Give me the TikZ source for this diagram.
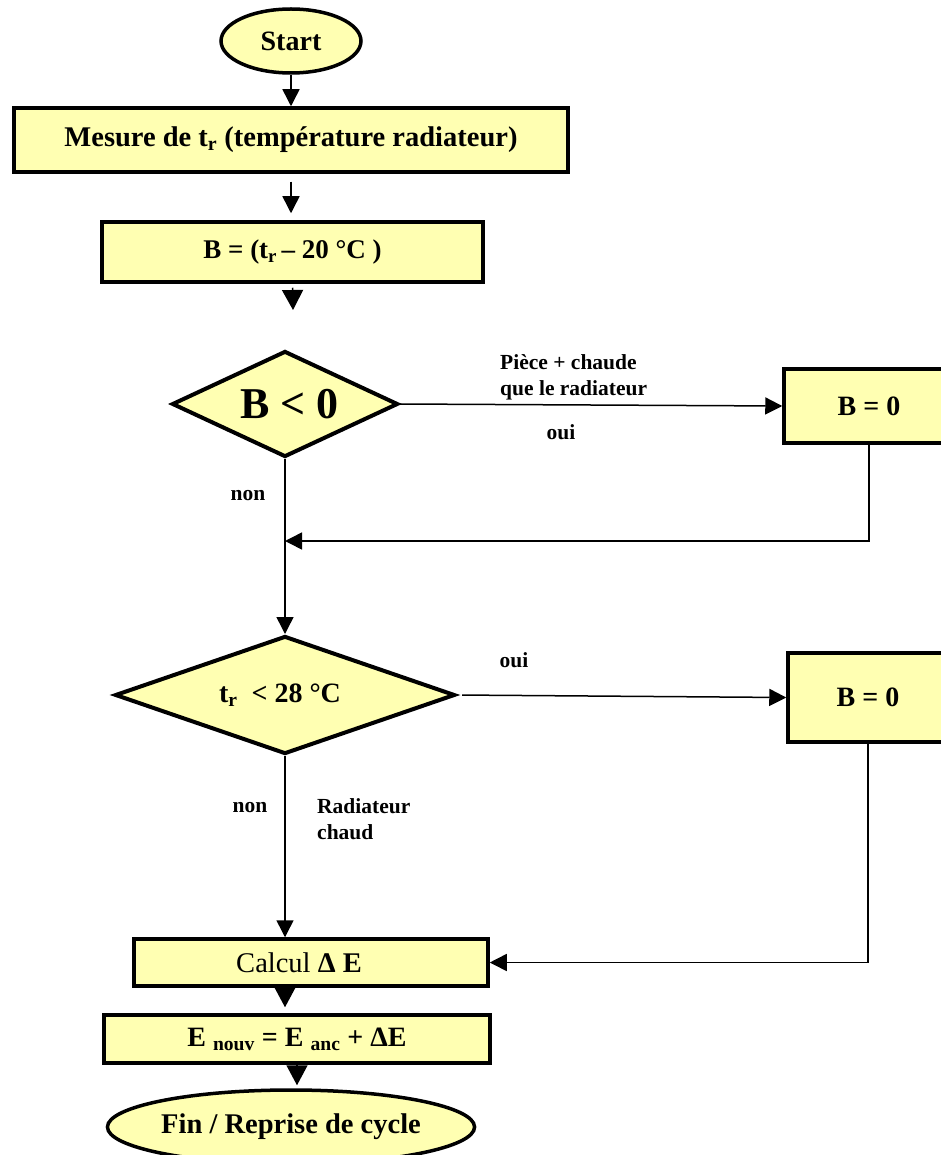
\documentclass[tikz,border=0pt]{standalone}
\usepackage{fontspec}
\setmainfont{Liberation Serif}
\usetikzlibrary{shapes.geometric,arrows.meta}
\definecolor{paleyellow}{RGB}{255,255,178}
\newcommand{\fsz}[1]{\fontsize{#1}{#1}\selectfont}

\begin{document}
\begin{tikzpicture}[x=1pt,y=-1pt,
		every node/.style={inner sep=0pt},
		box/.style={draw=black,line width=3.5pt,fill=paleyellow,rectangle,font=\fsz{28}\bfseries},
		decision/.style={draw=black,line width=4pt,fill=paleyellow,diamond,aspect=2.2,font=\fsz{28}\bfseries},
		terminal/.style={draw=black,line width=3.5pt,fill=paleyellow,ellipse,font=\fsz{28}\bfseries},
		flow/.style={line width=1.5pt,-{Triangle[length=17pt,width=17pt]}},
		tipflow/.style={line width=1.5pt,-{Triangle[length=20pt,width=21pt]}},
		note/.style={font=\fontsize{21.5}{26}\selectfont\bfseries,align=left}]
	\useasboundingbox (0,0) rectangle (940,1155);
	\node [terminal,minimum width=140pt,minimum height=64pt] (start) at (291,41) {Start};
	\node [box,minimum width=554pt,minimum height=64pt,font=\fsz{28.5}\bfseries] (mesure) at (291,140) {Mesure de t\textsubscript{r} (température radiateur)};
	\node [box,minimum width=381pt,minimum height=60pt,font=\fsz{27}\bfseries] (ecart) at (292.5,252) {B = (t\textsubscript{r}\,– 20 °C )};
	\coordinate (stub) at (293,310);
	\node [decision,minimum width=226pt,minimum height=106pt,font=\fsz{44}\bfseries] (testb) at (285,404) {\hspace*{9pt}B < 0};
	\node [box,minimum width=170pt,minimum height=74pt] (nulb) at (869,406) {B = 0};
	\node [note,anchor=north west] (hotroom) at (500,354) {Pièce + chaude\\que le radiateur};
	\node [note] (ouib) at (561,432) {oui};
	\node [note] (nonb) at (248,496) {non};
	\coordinate (join) at (285,541);
	\node [decision,minimum width=340pt,minimum height=118pt] (testt) at (285,695) {t\textsubscript{r}\ \ < 28 °C\hspace*{10pt}};
	\node [note] (ouit) at (514,660) {oui};
	\node [box,minimum width=160pt,minimum height=89pt] (nult) at (868,697.5) {B = 0};
	\node [note] (nont) at (250,808) {non};
	\node [note,anchor=north west] (hotrad) at (317,798) {Radiateur\\chaud};
	\node [box,minimum width=354pt,minimum height=47pt,font=\fsz{28.5}] (calc) at (311,962.5) {Calcul \textbf{Δ E}\hspace*{24pt}};
	\node [box,minimum width=386pt,minimum height=48pt] (enouv) at (297,1039) {E \textsubscript{nouv} = E \textsubscript{anc} + ΔE};
	\node [terminal,minimum width=366pt,minimum height=74pt,font=\fsz{28.5}\bfseries] (fin) at (291,1127) {Fin / Reprise de cycle};
	\draw [flow] (start.south) -- (start.south |- mesure.north);
	\draw [flow,shorten <=8pt,shorten >=7pt] (mesure.south -| start.south) -- (ecart.north -| start.south);
	\draw [tipflow,shorten <=4pt] (ecart.south) -- (stub);
	\draw [flow] (testb.east) -- (nulb.west);
	\draw [flow] (testb.south) -- (testt.north);
	\draw [flow] (nulb.south) |- (join);
	\draw [flow,shorten <=5pt] (testt.east) -- (nult.west);
	\draw [flow] (testt.south) -- (testt.south |- calc.north);
	\draw [flow] (nult.south) |- (calc.east);
	\draw [tipflow,shorten >=6pt] (calc.south -| testt.south) -- (enouv.north -| testt.south);
	\draw [tipflow,shorten >=3pt] (enouv.south) -- (enouv.south |- fin.north);
\end{tikzpicture}
\end{document}
